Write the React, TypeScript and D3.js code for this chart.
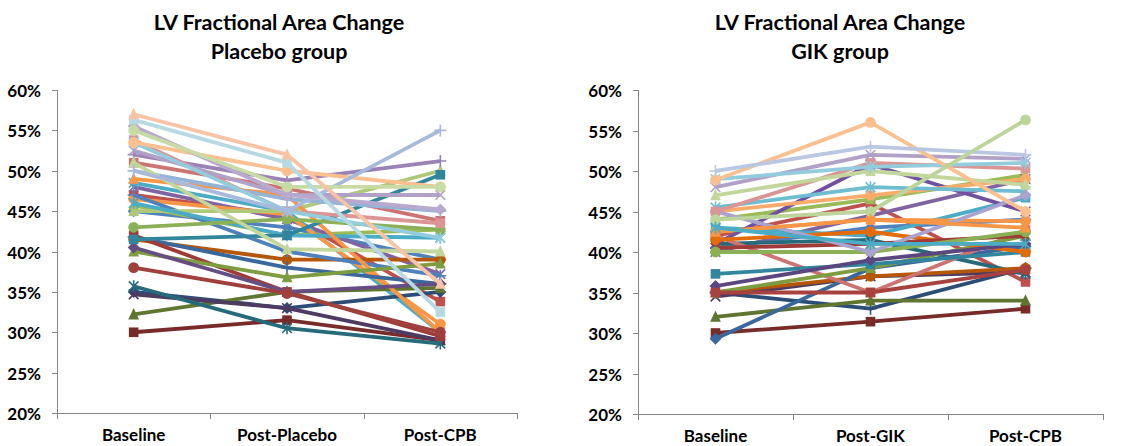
import React, { useEffect, useRef } from "react";
import * as d3 from "d3";

// ---------- DATA ----------
const placeboCategories = ["Baseline", "Post-Placebo", "Post-CPB"];
const gikCategories = ["Baseline", "Post-GIK", "Post-CPB"];
const yTicks = [20, 25, 30, 35, 40, 45, 50, 55, 60];

// Placebo group, one value per patient (percent)
const placeboBaseline = [45, 47, 45.7, 48, 48.5, 46.5, 35, 30, 32.2, 34.7, 35.7, 41.5, 47, 51, 45, 52, 46, 49, 41.8, 42, 40, 40.5, 41.5, 43, 50, 53.8, 51, 52.5, 53.5, 53.5, 50, 55.5, 55, 56.3, 57, 38];
const placeboPost = [43, 44.5, 42, 44, 45, 44.6, 33, 31.5, 35, 33, 30.5, 39, 40, 47.8, 45, 48.8, 42, 47, 38, 35, 36.8, 35, 42, 44, 46.5, 45, 40.3, 47, 45, 50, 45, 47, 48, 51, 52, 34.8];
const placeboCPB = [39, 33.8, 42.7, 37.2, 30, 31, 35, 29, 35.5, 29, 28.6, 39, 37, 43.8, 50, 51.2, 41.7, 30, 36, 29.5, 38.5, 36, 49.5, 42.7, 45, 43.5, 40, 47, 41.7, 48, 55, 45.2, 48, 32.5, 36, 30];

// GIK group
const gikBaseline = [40.5, 42, 44, 40, 43, 42.5, 35, 30, 32, 34.5, 41, 35, 29.3, 42, 35, 41, 37.3, 41.5, 40.5, 40, 35.8, 35, 45, 45.5, 45, 45, 47, 48, 49, 48.9, 50, 44, 42.5, 43];
const gikPost = [43, 46, 46.5, 44.5, 42, 44, 33, 31.4, 34, 37, 41.5, 37, 38, 35, 38, 50.8, 38.5, 42.5, 41, 40, 39, 35, 47, 48, 40, 51, 50, 52, 50.5, 56, 53, 45, 44, 41];
const gikCPB = [44, 36.3, 49.5, 49, 46.7, 43.8, 38, 33, 34, 37.5, 37.3, 38, 40.7, 42.7, 42, 45, 40, 40, 42, 42.5, 41, 37.8, 49, 47.5, 47, 50.3, 48.3, 51.5, 51, 45, 52, 56.3, 43, 41];

// ---------- STYLES ----------
const placeboColors = ["#4F81BD", "#C0504D", "#9BBB59", "#8064A2", "#4BACC6", "#F79646", "#2C4D75", "#772C2A", "#5F7530", "#4D3B62", "#276A7C", "#B65708", "#4F81BD", "#CD7371", "#AFC97A", "#9983B5", "#4BACC6", "#F79646", "#3A679C", "#9F3B38", "#7E9D40", "#664E83", "#31859C", "#8CB055", "#95B3D7", "#D99694", "#C3D69B", "#B2A1C7", "#93CDDD", "#FAC090", "#A7B9DC", "#B9A9CF", "#C8DBA5", "#B7D9E4", "#F9C3A5", "#A0403D"];
const placeboMarkers = ["diamond", "square", "triangle", "x", "star", "circle", "diamond", "square", "triangle", "x", "star", "circle", "plus", "square", "triangle", "plus", "star", "triangle", "plus", "square", "triangle", "diamond", "square", "circle", "plus", "square", "triangle", "x", "star", "circle", "plus", "diamond", "circle", "square", "triangle", "circle"];

const gikColors = ["#4F81BD", "#C0504D", "#9BBB59", "#8064A2", "#4BACC6", "#F79646", "#2C4D75", "#772C2A", "#5F7530", "#4D3B62", "#276A7C", "#B65708", "#3A679C", "#CD7371", "#7E9D40", "#7050A0", "#31859C", "#E36C09", "#9F3B38", "#8CB055", "#5C4680", "#A8423F", "#F9AB6B", "#6FBDD1", "#A9A4CF", "#D99694", "#C3D69B", "#B2A1C7", "#93CDDD", "#FAC090", "#B9C7E3", "#BDD49A", "#F79646", "#4BACC6"];
const gikMarkers = ["diamond", "square", "triangle", "x", "square", "circle", "plus", "square", "triangle", "x", "star", "circle", "diamond", "square", "triangle", "x", "square", "circle", "x", "circle", "diamond", "square", "circle", "star", "diamond", "square", "triangle", "x", "star", "circle", "plus", "circle", "triangle", "star"];

const FONT = "Lato, 'Open Sans', Arial, sans-serif";

type Panel = {
  title2: string;
  cats: string[];
  series: number[][];
  colors: string[];
  markers: string[];
  titleX: number;
  axisX: number;
  right: number;
  yTop: number;
  yBottom: number;
};

function markerPath(g: any, type: string, cx: number, cy: number, color: string) {
  const r = 5.4;
  if (type === "diamond") {
    g.append("path").attr("d", `M${cx},${cy - r - 0.6}L${cx + r + 0.6},${cy}L${cx},${cy + r + 0.6}L${cx - r - 0.6},${cy}Z`).attr("fill", color);
  } else if (type === "square") {
    g.append("rect").attr("x", cx - 4.8).attr("y", cy - 4.8).attr("width", 9.6).attr("height", 9.6).attr("fill", color);
  } else if (type === "triangle") {
    g.append("path").attr("d", `M${cx},${cy - r - 1}L${cx + r},${cy + r - 0.5}L${cx - r},${cy + r - 0.5}Z`).attr("fill", color);
  } else if (type === "circle") {
    g.append("circle").attr("cx", cx).attr("cy", cy).attr("r", 5.4).attr("fill", color);
  } else if (type === "x" || type === "star") {
    const s = 4.8;
    g.append("path").attr("d", `M${cx - s},${cy - s}L${cx + s},${cy + s}M${cx - s},${cy + s}L${cx + s},${cy - s}` + (type === "star" ? `M${cx},${cy - 6}L${cx},${cy + 6}` : "")).attr("stroke", color).attr("stroke-width", 1.6).attr("fill", "none");
  } else if (type === "plus") {
    const s = 6;
    g.append("path").attr("d", `M${cx - s},${cy}L${cx + s},${cy}M${cx},${cy - s}L${cx},${cy + s}`).attr("stroke", color).attr("stroke-width", 1.6).attr("fill", "none");
  }
}

function drawPanel(svg: any, p: Panel) {
  const g = svg.append("g");
  const x = d3.scaleBand<string>().domain(p.cats).range([p.axisX, p.right]).padding(0);
  const y = d3.scaleLinear().domain([20, 60]).range([p.yBottom, p.yTop]);

  // titles
  g.append("text").attr("x", p.titleX).attr("y", 30).attr("text-anchor", "middle").attr("font-family", FONT).attr("font-weight", 700).attr("font-size", 21.5).attr("fill", "#000").text("LV Fractional Area Change");
  g.append("text").attr("x", p.titleX).attr("y", 59).attr("text-anchor", "middle").attr("font-family", FONT).attr("font-weight", 700).attr("font-size", 21.5).attr("fill", "#000").text(p.title2);

  // axes
  const axisColor = "#868686";
  g.append("line").attr("x1", p.axisX + 0.5).attr("x2", p.axisX + 0.5).attr("y1", p.yTop).attr("y2", p.yBottom).attr("stroke", axisColor);
  g.append("line").attr("x1", p.axisX).attr("x2", p.right).attr("y1", p.yBottom + 0.5).attr("y2", p.yBottom + 0.5).attr("stroke", axisColor);
  yTicks.forEach((t) => {
    const yy = Math.round(y(t)) + 0.5;
    g.append("line").attr("x1", p.axisX - 5).attr("x2", p.axisX).attr("y1", yy).attr("y2", yy).attr("stroke", axisColor);
    g.append("text").attr("x", p.axisX - 16).attr("y", yy + 6).attr("text-anchor", "end").attr("font-family", FONT).attr("font-weight", 700).attr("font-size", 17).attr("fill", "#000").text(`${t}%`);
  });
  const bounds = [...p.cats.map((c) => x(c) as number), p.right];
  bounds.forEach((bx) => {
    const xx = Math.round(bx) + 0.5;
    g.append("line").attr("x1", xx).attr("x2", xx).attr("y1", p.yBottom).attr("y2", p.yBottom + 6).attr("stroke", axisColor);
  });
  p.cats.forEach((c) => {
    g.append("text").attr("x", (x(c) as number) + x.bandwidth() / 2).attr("y", p.yBottom + 28).attr("text-anchor", "middle").attr("font-family", FONT).attr("font-weight", 700).attr("font-size", 17).attr("fill", "#000").text(c);
  });

  const n = p.series[0].length;
  const line = d3.line<number>().x((_, i) => (x(p.cats[i]) as number) + x.bandwidth() / 2).y((v) => y(v));
  for (let s = 0; s < n; s++) {
    const vals = p.series.map((arr) => arr[s]);
    const sg = g.append("g");
    sg.append("path").attr("d", line(vals)).attr("fill", "none").attr("stroke", p.colors[s]).attr("stroke-width", 3.8).attr("stroke-linejoin", "round");
    vals.forEach((v, i) => markerPath(sg, p.markers[s], (x(p.cats[i]) as number) + x.bandwidth() / 2, y(v), p.colors[s]));
  }
}

export default function App() {
  const ref = useRef<SVGSVGElement>(null);
  useEffect(() => {
    const svg = d3.select(ref.current);
    svg.selectAll("*").remove();
    drawPanel(svg, {
      title2: "Placebo group",
      cats: placeboCategories,
      series: [placeboBaseline, placeboPost, placeboCPB],
      colors: placeboColors,
      markers: placeboMarkers,
      titleX: 279,
      axisX: 57,
      right: 517,
      yTop: 90,
      yBottom: 413,
    });
    drawPanel(svg, {
      title2: "GIK group",
      cats: gikCategories,
      series: [gikBaseline, gikPost, gikCPB],
      colors: gikColors,
      markers: gikMarkers,
      titleX: 840,
      axisX: 638,
      right: 1103,
      yTop: 90,
      yBottom: 414,
    });
  }, []);
  return (
    <svg ref={ref} width={1134} height={446} style={{ position: "absolute", left: 0, top: 0, background: "#fff" }} />
  );
}
